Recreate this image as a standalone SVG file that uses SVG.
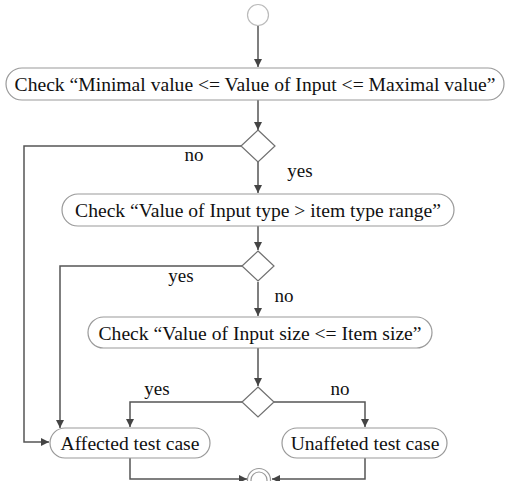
<svg xmlns="http://www.w3.org/2000/svg" width="507" height="481" viewBox="0 0 507 481">
<style>
.box{fill:#fff;stroke:#9a9a9a;stroke-width:1.2}
.dia{fill:#fff;stroke:#707070;stroke-width:1.2}
.ln{fill:none;stroke:#555;stroke-width:1.5}
.t{font-family:"Liberation Serif","Times New Roman",serif;font-size:19.6px;fill:#111;text-anchor:middle}
.l{font-family:"Liberation Serif","Times New Roman",serif;font-size:19px;fill:#111;text-anchor:middle}
</style>
<defs>
<marker id="ah" viewBox="0 0 10 10" refX="10" refY="5" markerWidth="8" markerHeight="8" markerUnits="userSpaceOnUse" orient="auto">
<path d="M0,0 L10,5 L0,10 z" fill="#444"/>
</marker>
</defs>
<rect width="507" height="481" fill="#fff"/>
<g id="connectors">
<path class="ln" d="M258,26 V67" marker-end="url(#ah)"/>
<path class="ln" d="M258,100 V130" marker-end="url(#ah)"/>
<path class="ln" d="M241,146 H24 V442 H49" marker-end="url(#ah)"/>
<path class="ln" d="M258,162 V193" marker-end="url(#ah)"/>
<path class="ln" d="M258,226 V250" marker-end="url(#ah)"/>
<path class="ln" d="M242,266 H60 V428" marker-end="url(#ah)"/>
<path class="ln" d="M258,282 V316" marker-end="url(#ah)"/>
<path class="ln" d="M258,348 V386" marker-end="url(#ah)"/>
<path class="ln" d="M242,402 H130 V427" marker-end="url(#ah)"/>
<path class="ln" d="M274,402 H365 V427" marker-end="url(#ah)"/>
<path class="ln" d="M130,458 V479 H247" marker-end="url(#ah)"/>
<path class="ln" d="M365,458 V479 H272" marker-end="url(#ah)"/>
</g>
<g id="start"><circle cx="258" cy="15" r="10.5" fill="#fff" stroke="#bbb" stroke-width="1.2"/></g>
<g id="check1"><rect class="box" x="6" y="68" width="498" height="32" rx="16"/><text class="t" x="255" y="91">Check “Minimal value &lt;= Value of Input &lt;= Maximal value”</text></g>
<g id="d1"><path class="dia" d="M258,130 L275,146 L258,162 L241,146 Z"/></g>
<text class="l" x="194" y="161">no</text>
<text class="l" x="300" y="177">yes</text>
<g id="check2"><rect class="box" x="62" y="194" width="392" height="32" rx="16"/><text class="t" x="258" y="217">Check “Value of Input type &gt; item type range”</text></g>
<g id="d2"><path class="dia" d="M258,251 L274,266 L258,281 L242,266 Z"/></g>
<text class="l" x="181" y="282">yes</text>
<text class="l" x="284" y="302">no</text>
<g id="check3"><rect class="box" x="88" y="317" width="344" height="31" rx="15.5"/><text class="t" x="260" y="340">Check “Value of Input size &lt;= Item size”</text></g>
<g id="d3"><path class="dia" d="M258,387 L274,402 L258,417 L242,402 Z"/></g>
<text class="l" x="157" y="395">yes</text>
<text class="l" x="340" y="395">no</text>
<g id="affected"><rect class="box" x="50" y="428" width="160" height="30" rx="15"/><text class="t" x="130" y="450">Affected test case</text></g>
<g id="unaffected"><rect class="box" x="282" y="428" width="165" height="30" rx="15"/><text class="t" x="365" y="450">Unaffeted test case</text></g>
<g id="end"><circle cx="259" cy="480" r="11.5" fill="#fff" stroke="#999" stroke-width="1.2"/><circle cx="259" cy="480" r="8" fill="#fff" stroke="#999" stroke-width="1.2"/></g>
</svg>
